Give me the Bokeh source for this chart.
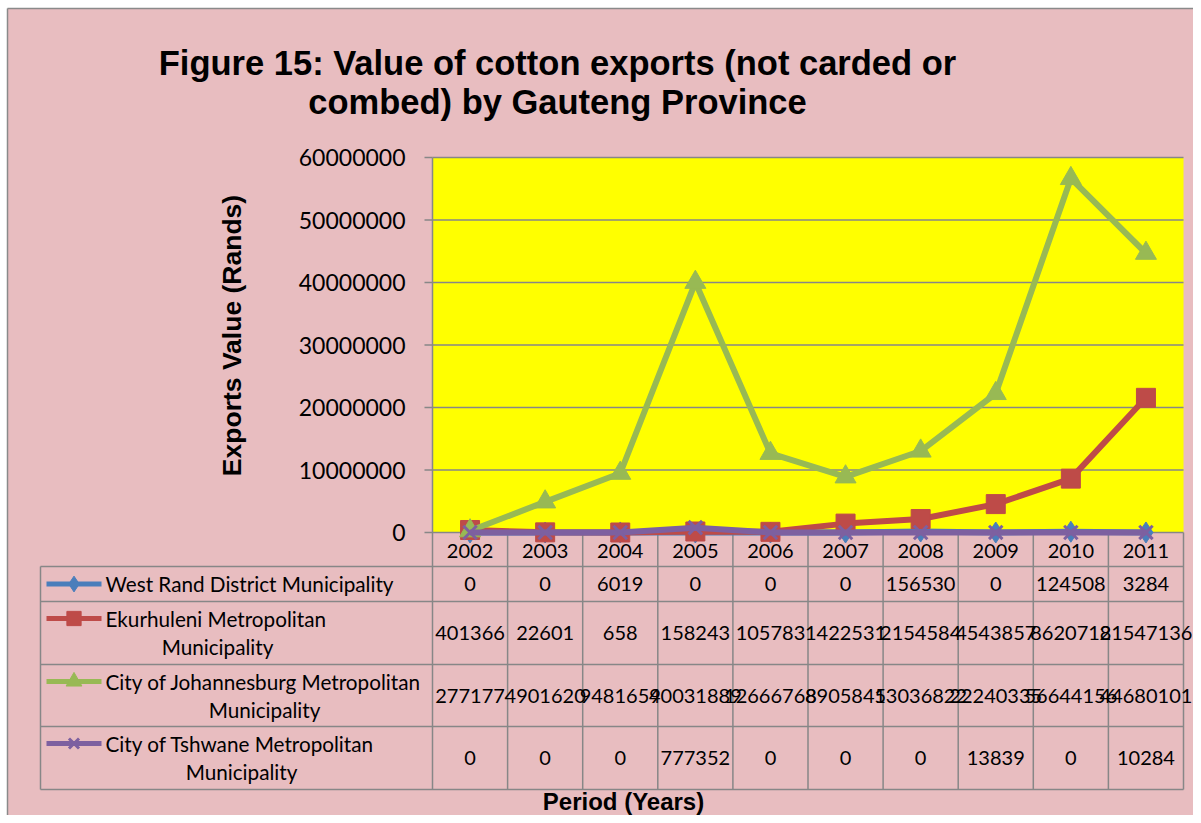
import numpy as np
from bokeh.plotting import figure
from bokeh.models import Range1d
from bokeh.core.properties import value
from bokeh.embed import file_html
from bokeh.resources import INLINE

# ---------------- data ----------------
years = ["2002", "2003", "2004", "2005", "2006", "2007", "2008", "2009", "2010", "2011"]
west_rand = [0, 0, 6019, 0, 0, 0, 156530, 0, 124508, 3284]
ekurhuleni = [401366, 22601, 658, 158243, 105783, 1422531, 2154584, 4543857, 8620718, 21547136]
johannesburg = [277177, 4901620, 9481659, 40031889, 12666768, 8905845, 13036822, 22240335, 56644156, 44680101]
tshwane = [0, 0, 0, 777352, 0, 0, 0, 13839, 0, 10284]
series_labels = [
    ["West Rand District Municipality"],
    ["Ekurhuleni Metropolitan", "Municipality"],
    ["City of Johannesburg Metropolitan", "Municipality"],
    ["City of Tshwane Metropolitan", "Municipality"],
]
y_ticks = [0, 10000000, 20000000, 30000000, 40000000, 50000000, 60000000]
title_lines = ["Figure 15: Value of cotton exports (not carded or", "combed) by Gauteng Province"]
y_title = "Exports Value (Rands)"
x_title = "Period (Years)"

# ---------------- style / layout ----------------
W, H = 1193, 815
BG = "#E8BDC0"
YELLOW = "#FFFF00"
GRID = "#878787"
colors = ["#4A7EBB", "#BE4B48", "#98B954", "#7D60A0"]
markers = ["diamond", "square", "triangle", "x"]
msizes = [21, 19, 21, 19]
PX_L, PX_R = 432, 1183
PY_T, PY_0 = 157, 532
rows = [532, 566, 601, 664, 726, 789]
TBL_L = 40
FR_X, FR_Y = 7, 8
NUM_FONT = value("Lato")
BOLD_FONT = value("Liberation Sans")

colw = (PX_R - PX_L) / len(years)
vmax = y_ticks[-1]
vpp = vmax / (PY_0 - PY_T)

p = figure(width=W, height=H, x_range=Range1d(0, W), y_range=Range1d(H, 0),
           min_border=0, toolbar_location=None, output_backend="svg",
           x_axis_type=None, y_axis_type=None, background_fill_color="white",
           border_fill_color="white", outline_line_color=None)
p.extra_x_ranges = {"cat": Range1d(-0.5 - PX_L / colw, len(years) - 0.5 + (W - PX_R) / colw)}
p.extra_y_ranges = {"val": Range1d(-(H - PY_0) * vpp, vmax + PY_T * vpp)}

idx = list(range(len(years)))

# chart background
p.quad(left=[FR_X], right=[W], top=[FR_Y], bottom=[H], fill_color=BG, line_color=None)
# plot area
p.quad(left=[-0.5], right=[len(years) - 0.5], bottom=[0], top=[vmax], fill_color=YELLOW,
       line_color=None, x_range_name="cat", y_range_name="val")
# gridlines
p.segment(x0=[-0.5] * len(y_ticks[1:]), x1=[len(years) - 0.5] * len(y_ticks[1:]), y0=y_ticks[1:], y1=y_ticks[1:],
          line_color=GRID, line_width=1.5, x_range_name="cat", y_range_name="val")
# y tick marks
p.segment(x0=[PX_L - 8] * len(y_ticks), x1=[PX_L] * len(y_ticks), y0=y_ticks, y1=y_ticks,
          line_color=GRID, line_width=1.5, y_range_name="val")
# y tick labels
p.text(x=[PX_L - 27] * len(y_ticks), y=y_ticks, text=[str(t) for t in y_ticks], text_font=NUM_FONT,
       text_font_size="23px", text_align="right", text_baseline="middle", text_color="black",
       y_range_name="val")
# axis lines
p.segment(x0=[PX_L], x1=[PX_L], y0=[PY_T], y1=[rows[-1]], line_color=GRID, line_width=1.5)
p.segment(x0=[PX_L], x1=[PX_R], y0=[PY_0], y1=[PY_0], line_color=GRID, line_width=1.5)
# table vertical lines (category boundaries)
bounds = [i + 0.5 for i in idx]
p.segment(x0=bounds, x1=bounds, y0=[rows[0]] * len(bounds), y1=[rows[-1]] * len(bounds),
          line_color=GRID, line_width=1.5, x_range_name="cat")
# table horizontal lines
p.segment(x0=[TBL_L] * 5, x1=[PX_R] * 5, y0=rows[1:], y1=rows[1:], line_color=GRID, line_width=1.5)
p.segment(x0=[TBL_L], x1=[TBL_L], y0=[rows[1]], y1=[rows[-1]], line_color=GRID, line_width=1.5)
# outer border
p.segment(x0=[FR_X, FR_X], x1=[FR_X, W], y0=[FR_Y, FR_Y], y1=[H, FR_Y],
          line_color="#8A8A8A", line_width=1.5)

# series
series = [west_rand, ekurhuleni, johannesburg, tshwane]
for vals, c, m, s in zip(series, colors, markers, msizes):
    p.line(x=idx, y=vals, line_color=c, line_width=6, x_range_name="cat", y_range_name="val")
    if m == "x":
        p.scatter(x=idx, y=vals, marker=m, size=s, line_color=c, line_width=3,
                  x_range_name="cat", y_range_name="val")
    else:
        p.scatter(x=idx, y=vals, marker=m, size=s, fill_color=c, line_color=c,
                  x_range_name="cat", y_range_name="val")

# year labels
p.text(x=idx, y=[(rows[0] + rows[1]) / 2 + 1] * len(years), text=years, text_font=NUM_FONT,
       text_font_size="20px", text_align="center", text_baseline="middle", text_color="black",
       x_range_name="cat")
# table values
for r, vals in enumerate(series):
    yc = (rows[r + 1] + rows[r + 2]) / 2
    p.text(x=idx, y=[yc] * len(vals), text=[str(v) for v in vals], text_font=NUM_FONT,
           text_font_size="20px", text_align="center", text_baseline="middle", text_color="black",
           x_range_name="cat")

# legend column
line2_centers = [None, 217, 264, 241]
for r, (lab, c, m, s) in enumerate(zip(series_labels, colors, markers, msizes)):
    top = rows[r + 1]
    if len(lab) == 1:
        yi = (rows[r + 1] + rows[r + 2]) / 2
    else:
        yi = top + 17
    p.segment(x0=[46], x1=[101], y0=[yi], y1=[yi], line_color=c, line_width=5)
    if m == "x":
        p.scatter(x=[73.5], y=[yi], marker=m, size=s * 0.75, line_color=c, line_width=3)
    else:
        p.scatter(x=[73.5], y=[yi], marker=m, size=s * 0.75, fill_color=c, line_color=c)
    p.text(x=[105], y=[yi], text=[lab[0]], text_font=NUM_FONT, text_font_size="20.7px",
           text_align="left", text_baseline="middle", text_color="black")
    if len(lab) > 1:
        p.text(x=[line2_centers[r]], y=[yi + 28], text=[lab[1]], text_font=NUM_FONT, text_font_size="20.7px",
               text_align="center", text_baseline="middle", text_color="black")

# titles
p.text(x=[557, 557], y=[62, 101], text=title_lines, text_font=BOLD_FONT, text_font_size="34.5px",
       text_font_style="bold", text_align="center", text_baseline="middle", text_color="black")
p.text(x=[231], y=[335], text=[y_title], angle=np.pi / 2, text_font=BOLD_FONT, text_font_size="26.5px",
       text_font_style="bold", text_align="center", text_baseline="middle", text_color="black")
p.text(x=[623], y=[801], text=[x_title], text_font=BOLD_FONT, text_font_size="24px",
       text_font_style="bold", text_align="center", text_baseline="middle", text_color="black")

open("out.html", "w").write(file_html(p, INLINE))
